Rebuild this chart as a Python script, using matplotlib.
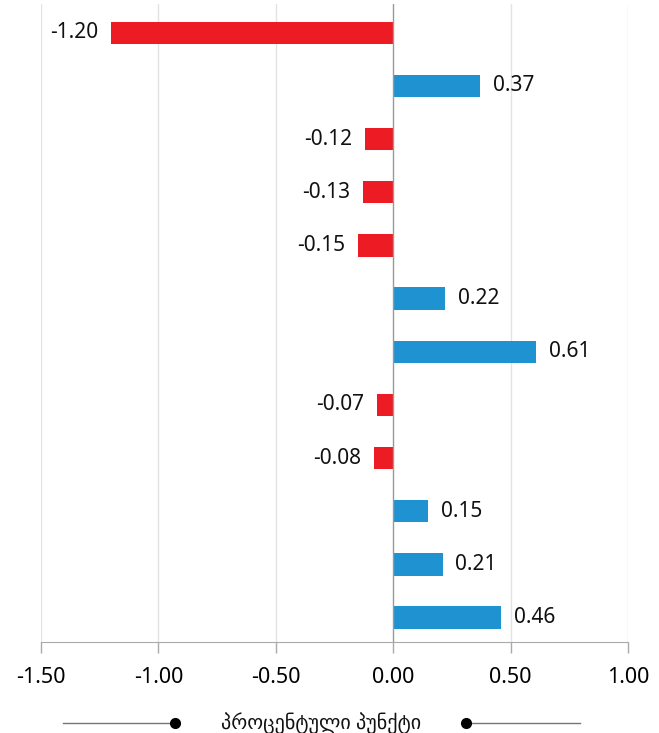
import matplotlib.pyplot as plt
from matplotlib.lines import Line2D
import numpy as np

plt.rcParams['font.family'] = ['Noto Sans', 'DejaVu Sans']

# მონაცემები (ზემოდან ქვემოთ)
values = [-1.20, 0.37, -0.12, -0.13, -0.15, 0.22, 0.61, -0.07, -0.08, 0.15, 0.21, 0.46]
xticks = [-1.5, -1.0, -0.5, 0.0, 0.5, 1.0]
xlabel = "პროცენტული პუნქტი"

RED = '#ed1c24'
BLUE = '#1f92d1'

fig = plt.figure(figsize=(6.59, 7.33), dpi=100)
ax = fig.add_axes([41 / 659, 1 - 642 / 733, 587 / 659, 638 / 733])

y = np.arange(len(values))
colors = [RED if v < 0 else BLUE for v in values]
ax.barh(y, values, height=0.42, color=colors, zorder=3)

for yi, v in zip(y, values):
    if v < 0:
        ax.text(v - 0.055, yi, "{:.2f}".format(v), ha='right', va='center', fontsize=15, color='#111111')
    else:
        ax.text(v + 0.055, yi, "{:.2f}".format(v), ha='left', va='center', fontsize=15, color='#111111')

ax.set_xlim(-1.5, 1.0)
ax.set_ylim(len(values) - 0.54, -0.54)
ax.set_xticks(xticks)
ax.set_xticklabels(["{:.2f}".format(t) for t in xticks], fontsize=15.5)
ax.set_yticks([])

# სადიაგრამო ბადე
for t in xticks:
    if t == 0:
        ax.axvline(t, color='#999999', lw=1.0, zorder=4)
    else:
        ax.axvline(t, color='#e3e3e3', lw=1.0, zorder=1)

for s in ['top', 'right', 'left']:
    ax.spines[s].set_visible(False)
ax.spines['bottom'].set_color('#aaaaaa')
ax.tick_params(axis='x', length=8, width=1, color='#aaaaaa', pad=10)

# ქვედა წარწერა ხაზებით
ly = 1 - 723 / 733
fig.add_artist(Line2D([63 / 659, 175 / 659], [ly, ly], color='#777777', lw=1))
fig.add_artist(Line2D([466 / 659, 580 / 659], [ly, ly], color='#777777', lw=1))
fig.add_artist(Line2D([175 / 659], [ly], marker='o', markersize=7, color='black'))
fig.add_artist(Line2D([466 / 659], [ly], marker='o', markersize=7, color='black'))
fig.text(321 / 659, ly, xlabel, ha='center', va='center', fontsize=14.5, color='#111111')

fig.savefig('out.png', dpi=100)
